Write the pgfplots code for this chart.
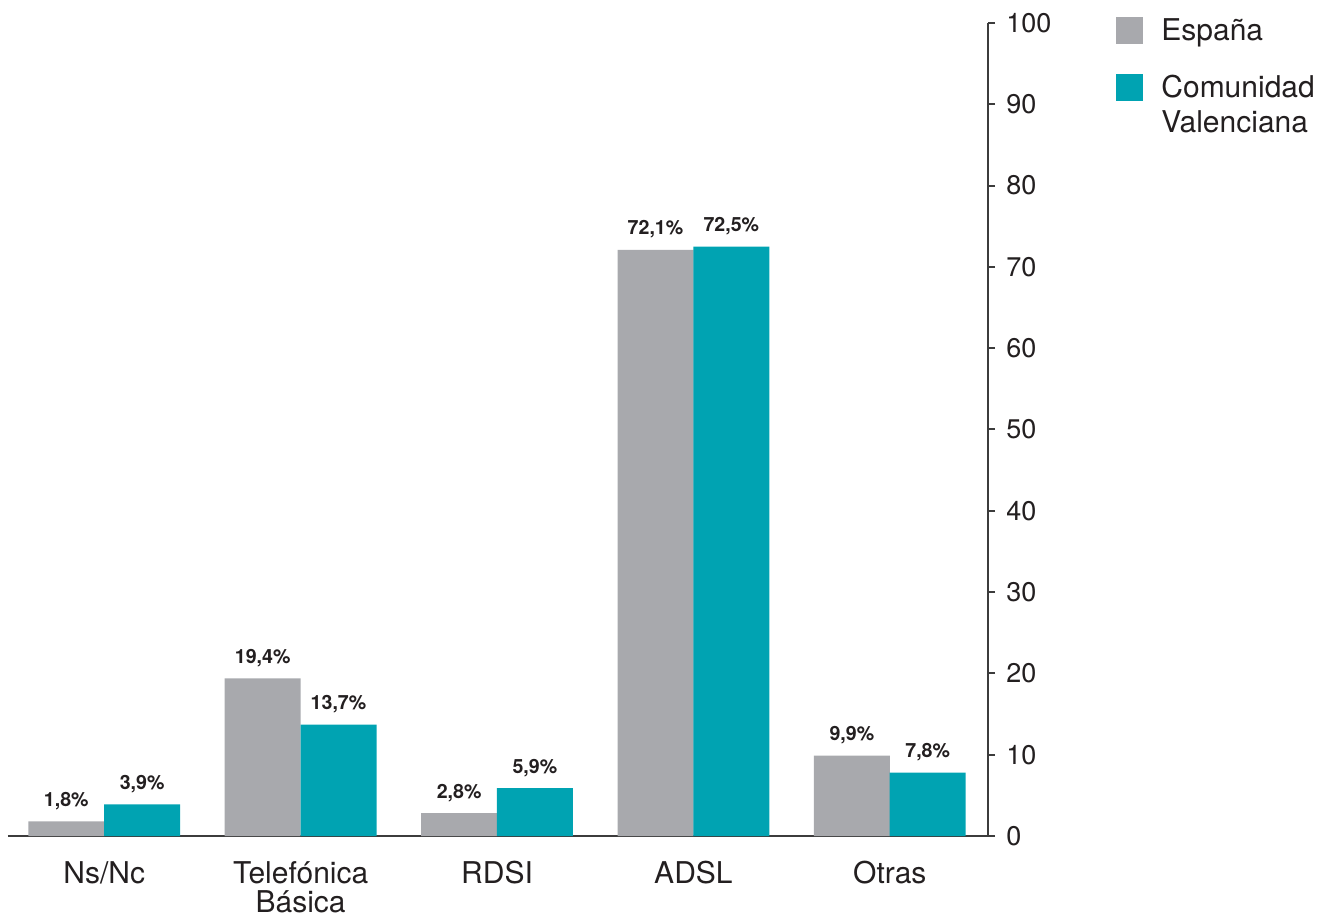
\documentclass[border=0pt]{standalone}
\usepackage{fontspec}
\setmainfont{TeX Gyre Heros}
\usepackage{pgfplots}
\pgfplotsset{compat=1.18}

\definecolor{espana}{RGB}{168,169,173}
\definecolor{cval}{RGB}{0,163,178}
\definecolor{txt}{RGB}{35,31,32}
\definecolor{axisc}{RGB}{60,60,60}

\begin{document}
\begin{tikzpicture}[text=txt]
\begin{axis}[
    scale only axis,
    width=490pt, height=406.5pt,
    xmin=-0.49, xmax=4.5,
    ymin=0, ymax=100,
    clip=false,
    ybar,
    axis x line*=bottom,
    axis y line*=right,
    axis line style={line width=1pt, color=axisc},
    tick align=outside,
    major tick length=3.5pt,
    ytick={0,10,...,100},
    y tick style={line width=1pt, color=axisc},
    xtick={0,1,2,3,4},
    xticklabels={Ns/Nc,{Telefónica\\Básica},RDSI,ADSL,Otras},
    x tick style={draw=none},
    /pgf/number format/assume math mode=true,
    yticklabel style={font=\fontsize{13.5}{15}\selectfont, anchor=west, inner sep=0pt, xshift=5.5pt},
    xticklabel style={font=\fontsize{15}{14.5}\selectfont, align=center, anchor=north, inner sep=0pt, yshift=-9pt},
    bar width=0.387,
    nodes near coords={\pgfmathprintnumber[fixed,fixed zerofill,precision=1,use comma]{\pgfplotspointmeta}\%},
    every node near coord/.append style={font=\bfseries\fontsize{9.8}{10}\selectfont, anchor=base, inner sep=0pt, yshift=7.5pt},
    legend style={at={(1,1)}, anchor=north west, xshift=64pt, yshift=4.6pt,
        draw=none, fill=none, inner sep=0pt, row sep=12pt, column sep=7pt,
        font=\fontsize{15}{17.5}\selectfont, cells={align=left, anchor=west}},
]

% España
\addplot[fill=espana, draw=none, bar shift=-0.193,
    legend image code/.code={\path[fill=espana] (0pt,-6.75pt) rectangle (13.5pt,6.75pt);}]
    coordinates {(0,1.8) (1,19.4) (2,2.8) (3,72.1) (4,9.9)};

% Comunidad Valenciana
\addplot[fill=cval, draw=none, bar shift=0.193,
    legend image code/.code={\path[fill=cval] (0pt,2pt) rectangle (13.5pt,15.5pt);}]
    coordinates {(0,3.9) (1,13.7) (2,5.9) (3,72.5) (4,7.8)};

\legend{España,{Comunidad\\Valenciana}}

\coordinate (bl) at (rel axis cs:0,0);
\coordinate (tr) at (rel axis cs:1,1);
\end{axis}
\pgfresetboundingbox
\useasboundingbox ([xshift=-4pt,yshift=-39.5pt]bl) rectangle ([xshift=172pt,yshift=11.5pt]tr);
\end{tikzpicture}
\end{document}
